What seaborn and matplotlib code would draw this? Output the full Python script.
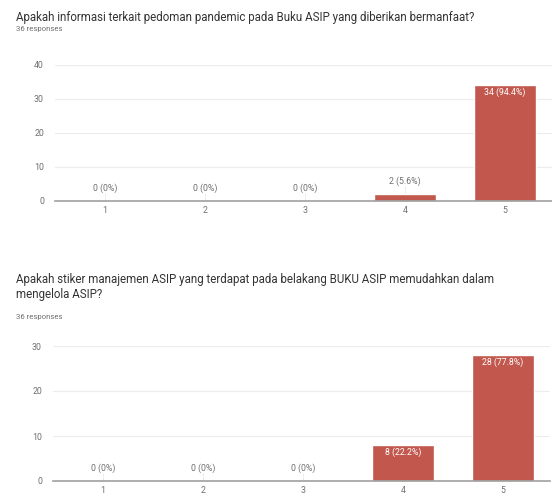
import matplotlib
matplotlib.use("Agg")
import matplotlib.pyplot as plt
import seaborn as sns
import pandas as pd

categories = ["1", "2", "3", "4", "5"]
q1_counts = [0, 0, 0, 2, 34]
q2_counts = [0, 0, 0, 8, 28]
q1_title = "Apakah informasi terkait pedoman pandemic pada Buku ASIP yang diberikan bermanfaat?"
q2_title = "Apakah stiker manajemen ASIP yang terdapat pada belakang BUKU ASIP memudahkan dalam\nmengelola ASIP?"
responses_label = "36 responses"
q1_yticks = [0, 10, 20, 30, 40]
q2_yticks = [0, 10, 20, 30]

sns.set_style("white")
plt.rcParams["font.family"] = ["Roboto", "DejaVu Sans"]

BAR = "#c2584d"
GRID = "#ececec"
AXIS = "#a0a0a0"
TXT = "#333333"
SUB = "#6f6f6f"

W, H = 552, 496
fig = plt.figure(figsize=(W / 100, H / 100), dpi=100)


def draw(ax, counts, yticks):
    df = pd.DataFrame({"cat": categories, "n": counts})
    sns.barplot(data=df, x="cat", y="n", color=BAR, width=0.62, saturation=1,
                ax=ax, zorder=3)
    total = sum(counts)
    ymax = yticks[-1]
    ax.set_ylim(0, ymax)
    ax.set_xlim(-0.5, 4.47)
    ax.set_yticks(yticks)
    ax.yaxis.grid(True, color=GRID, linewidth=0.8, zorder=0)
    for s in ["top", "right", "left"]:
        ax.spines[s].set_visible(False)
    ax.spines["bottom"].set_color(AXIS)
    ax.spines["bottom"].set_linewidth(1.2)
    ax.spines["bottom"].set_zorder(4)
    ax.tick_params(axis="y", length=0, labelsize=6.3, labelcolor=SUB, pad=8)
    ax.tick_params(axis="x", length=2.5, color=AXIS, labelsize=6.3, labelcolor=SUB, pad=1)
    ax.set_xlabel("")
    ax.set_ylabel("")
    for i, c in enumerate(counts):
        pct = round(c / total * 100, 1)
        lab = f"{c} ({pct:g}%)"
        if c / ymax > 0.15:
            ax.annotate(lab, (i, c), xytext=(0, -5), textcoords="offset points",
                        ha="center", va="center", fontsize=6.3, color="white", zorder=5)
        else:
            ax.annotate(lab, (i, c), xytext=(0, 9.5), textcoords="offset points",
                        ha="center", va="center", fontsize=6.3, color=SUB, zorder=5)
            ax.plot([i, i], [c, c + ymax * 0.06], color="#cccccc", lw=0.5,
                    linestyle=(0, (1, 1)), zorder=2)


ax1 = fig.add_axes([55 / W, (H - 201) / H, 497 / W, 136 / H])
draw(ax1, q1_counts, q1_yticks)
ax2 = fig.add_axes([53 / W, (H - 481) / H, 497 / W, 135 / H])
draw(ax2, q2_counts, q2_yticks)

fig.text(16 / W, 1 - 18 / H, q1_title, fontsize=8.3, color=TXT, va="center", ha="left")
fig.text(16 / W, 1 - 29 / H, responses_label, fontsize=5.6, color=SUB, va="center", ha="left")
fig.text(16 / W, 1 - 287 / H, q2_title, fontsize=8.3, color=TXT, va="center", ha="left",
         linespacing=1.25)
fig.text(16 / W, 1 - 317 / H, responses_label, fontsize=5.6, color=SUB, va="center", ha="left")

fig.savefig("out.png", dpi=100, facecolor="white")
